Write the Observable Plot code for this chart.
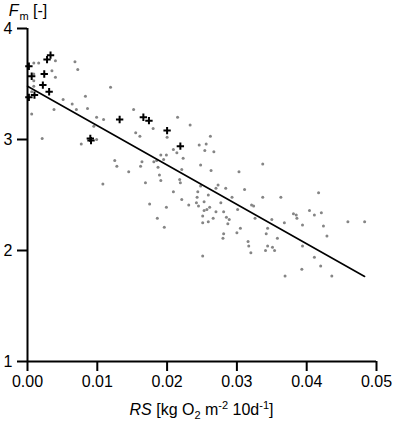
<!DOCTYPE html>
<html><head><meta charset="utf-8">
<script src="https://cdn.jsdelivr.net/npm/d3@7"></script>
<script src="https://cdn.jsdelivr.net/npm/@observablehq/plot@0.6"></script>
<style>
html,body{margin:0;padding:0;background:#fff;}
</style></head><body><div id="chart"></div>
<script>
// Grey points (all sites)
const grayX = [0.0009,0.0016,0.0040,0.0035,0.0068,0.0072,0.0009,0.0009,0.0040,0.0009,
0.0006,0.0006,0.0038,0.0051,0.0064,0.0070,0.0083,0.0086,0.0099,0.0109,
0.0119,0.0152,0.0155,0.0161,0.0180,0.0200,0.0215,0.0233,0.0021,0.0077,
0.0099,0.0095,0.0125,0.0128,0.0145,0.0108,0.0162,0.0164,0.0169,0.0175,
0.0186,0.0196,0.0199,0.0181,0.0185,0.0187,0.0191,0.0195,0.0199,0.0189,
0.0191,0.0209,0.0218,0.0219,0.0221,0.0221,0.0223,0.0214,0.0209,0.0246,
0.0256,0.0262,0.0254,0.0267,0.0248,0.0263,0.0273,0.0270,0.0284,0.0303,
0.0337,0.0311,0.0293,0.0244,0.0243,0.0248,0.0231,0.0242,0.0253,0.0245,
0.0253,0.0257,0.0261,0.0259,0.0251,0.0251,0.0259,0.0266,0.0270,0.0277,
0.0281,0.0285,0.0289,0.0287,0.0301,0.0321,0.0324,0.0326,0.0337,0.0363,
0.0350,0.0344,0.0342,0.0358,0.0281,0.0280,0.0305,0.0300,0.0368,0.0381,
0.0385,0.0386,0.0394,0.0404,0.0411,0.0421,0.0417,0.0424,0.0429,0.0459,
0.0483,0.0251,0.0316,0.0317,0.0320,0.0341,0.0344,0.0351,0.0354,0.0369,
0.0394,0.0393,0.0411,0.0420,0.0436];
const grayY = [3.69,3.69,3.71,3.62,3.70,3.63,3.59,3.53,3.56,3.48,
3.43,3.23,3.27,3.36,3.32,3.27,3.39,3.28,3.20,3.18,
3.47,3.27,3.06,3.03,3.10,3.02,3.20,3.13,3.01,2.96,
3.00,3.12,2.81,2.76,2.71,2.60,2.76,2.80,2.61,2.42,
2.29,2.21,2.39,2.80,2.81,2.75,2.86,2.82,2.86,2.68,
2.63,2.53,2.64,2.61,2.46,2.73,2.83,2.88,2.91,2.95,
2.96,3.03,2.90,2.89,2.77,2.72,2.59,2.56,2.56,2.71,
2.78,2.55,2.48,2.53,2.48,2.58,2.41,2.43,2.44,2.40,
2.36,2.37,2.39,2.50,2.31,2.25,2.26,2.29,2.35,2.43,
2.35,2.30,2.28,2.24,2.37,2.41,2.40,2.29,2.48,2.48,
2.28,2.20,2.15,2.11,2.15,2.11,2.20,2.16,2.25,2.33,
2.32,2.29,2.23,2.36,2.32,2.34,2.52,2.22,2.13,2.26,
2.26,1.95,2.08,2.04,1.98,2.00,2.04,2.03,2.00,1.77,
2.04,1.83,1.94,1.86,1.77];
// Black crosses (highlighted site)
const crossX = [0.0002,0.0006,0.0028,0.0033,0.0024,0.0022,0.0031,0.0002,0.0010,0.0132,0.0090,0.0091,0.0166,0.0174,0.0200,0.0219];
const crossY = [3.66,3.57,3.72,3.76,3.59,3.49,3.43,3.38,3.40,3.18,3.01,2.99,3.20,3.17,3.08,2.94];
// Regression line end points
const fitX = [0, 0.0483];
const fitY = [3.48, 1.766];
const xTicks = [0, 0.01, 0.02, 0.03, 0.04, 0.05];
const yTicks = [1, 2, 3, 4];

const gray = grayX.map((x, i) => ({x, y: grayY[i]}));
const crosses = crossX.map((x, i) => ({x, y: crossY[i]}));
const fit = fitX.map((x, i) => ({x, y: fitY[i]}));

const plot = Plot.plot({
  width: 394, height: 423,
  marginLeft: 27, marginRight: 18, marginTop: 28, marginBottom: 62,
  style: {fontFamily: "'Liberation Sans', Arial, sans-serif", fontSize: "16px", background: "#fff", color: "#000"},
  x: {domain: [0, 0.05], label: null},
  y: {domain: [1, 4], label: null},
  marks: [
    Plot.axisX({ticks: xTicks, tickFormat: d3.format(".2f"), tickSize: 10, tickPadding: 4, strokeWidth: 2, label: null, fontSize: 16}),
    Plot.axisY({ticks: yTicks, tickFormat: d3.format("d"), tickSize: 10, tickPadding: 5, strokeWidth: 2, label: null, fontSize: 16}),
    Plot.dot(gray, {x: "x", y: "y", r: 1.5, fill: "#858585", stroke: "none"}),
    Plot.line(fit, {x: "x", y: "y", stroke: "#000", strokeWidth: 1.6}),
    Plot.dot(crosses, {x: "x", y: "y", symbol: "plus", r: 2.5, stroke: "#000", strokeWidth: 2}),
    Plot.ruleX([0], {stroke: "#000", strokeWidth: 2}),
    Plot.ruleY([1], {stroke: "#000", strokeWidth: 2})
  ]
});
document.getElementById("chart").appendChild(plot);

// Axis titles with sub/superscripts
const svg = d3.select(plot);
const xs = plot.scale("x");
const ff = "'Liberation Sans', Arial, sans-serif";
const yl = svg.append("text").attr("x", 28).attr("y", 16).attr("font-family", ff).attr("font-size", 16).attr("fill", "#000");
yl.append("tspan").attr("font-style", "italic").text("F");
yl.append("tspan").attr("font-size", 11).attr("dy", 4).attr("dx", 1).text("m");
yl.append("tspan").attr("dy", -4).text(" [-]");

const cx = (xs.apply(0) + xs.apply(0.05)) / 2;
const xl = svg.append("text").attr("x", cx).attr("y", 415).attr("text-anchor", "middle").attr("font-family", ff).attr("font-size", 16).attr("fill", "#000");
xl.append("tspan").attr("font-style", "italic").text("RS");
xl.append("tspan").text(" [kg O");
xl.append("tspan").attr("font-size", 11).attr("dy", 4).text("2");
xl.append("tspan").attr("dy", -4).text(" m");
xl.append("tspan").attr("font-size", 11).attr("dy", -6).text("-2");
xl.append("tspan").attr("dy", 6).text(" 10d");
xl.append("tspan").attr("font-size", 11).attr("dy", -6).text("-1");
xl.append("tspan").attr("dy", 6).text("]");
</script>
</body></html>
